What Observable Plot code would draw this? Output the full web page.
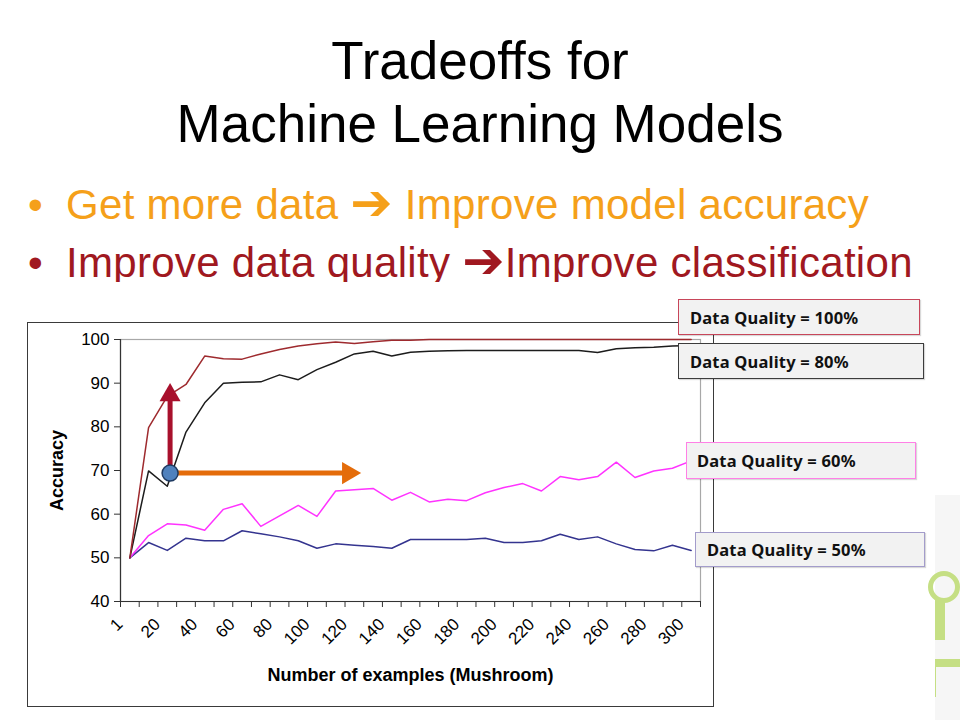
<!DOCTYPE html>
<html>
<head>
<meta charset="utf-8">
<script src="https://cdn.jsdelivr.net/npm/d3@7"></script>
<script src="https://cdn.jsdelivr.net/npm/@observablehq/plot@0.6"></script>
<style>
  html, body { margin: 0; padding: 0; background: #fff; }
  body { width: 960px; height: 720px; overflow: hidden; position: relative; font-family: "Liberation Sans", Arial, sans-serif; }
  .title { position: absolute; left: 0; width: 960px; text-align: center; font-size: 53px; line-height: 1; color: #000; white-space: nowrap; }
  .bullets { position: absolute; left: 0; top: 170px; width: 960px; height: 112px; overflow: hidden; }
  .b { position: absolute; font-size: 42px; line-height: 1; white-space: nowrap; letter-spacing: 0.3px; }
  .arrow { font-family: "DejaVu Sans", sans-serif; font-weight: bold; font-size: 1.2em; line-height: 0; vertical-align: -0.02em; }
  .frame { position: absolute; left: 27px; top: 322px; width: 685px; height: 383px; border: 1.5px solid #3a3a3a; }
  #chart { position: absolute; left: 27px; top: 322px; }
  .call { position: absolute; box-sizing: border-box; background: #F2F2F2; border: 1.5px solid; font-family: "Noto Sans", sans-serif; font-weight: bold; font-size: 16.5px; letter-spacing: 0.2px; color: #111; display: flex; align-items: center; white-space: nowrap; box-shadow: 1px 1px 1px rgba(0,0,0,0.15); }
  .deco { position: absolute; }
</style>
</head>
<body>
<div class="title" style="top:34px">Tradeoffs for</div>
<div class="title" style="top:97px">Machine Learning Models</div>
<div class="bullets">
  <div class="b" style="left:28px; top:13.5px; color:#F5A01A">•</div>
  <div class="b" style="left:66px; top:13.5px; color:#F5A01A">Get more data <span class="arrow">➔</span> Improve model accuracy</div>
  <div class="b" style="left:28px; top:71.5px; color:#A01820">•</div>
  <div class="b" style="left:66px; top:71.5px; color:#A01820">Improve data quality <span class="arrow">➔</span>Improve classification</div>
</div>

<div class="deco" style="left:935px; top:495px; width:25px; height:225px; background:#f6f6f6"></div>
<div class="deco" style="left:928px; top:571px; width:22px; height:22px; border:5px solid #C5DF84; border-radius:50%"></div>
<div class="deco" style="left:935px; top:600px; width:10px; height:40px; background:#C5DF84"></div>
<div class="deco" style="left:935px; top:659px; width:25px; height:8px; background:#C5DF84"></div>
<div class="deco" style="left:935px; top:667px; width:1px; height:30px; background:#C5DF84"></div>

<div class="frame"></div>
<div id="chart"></div>

<script>
// categories: number of examples
const examples = [1, 10, 20, 30, 40, 50, 60, 70, 80, 90, 100, 110, 120, 130, 140, 150,
                  160, 170, 180, 190, 200, 210, 220, 230, 240, 250, 260, 270, 280, 290, 300];
// series (accuracy %)
const q100 = [50, 79.8, 87.0, 89.7, 96.2, 95.6, 95.5, 96.7, 97.7, 98.5, 99.0, 99.4, 99.1, 99.5, 99.8, 99.8,
              100, 100, 100, 100, 100, 100, 100, 100, 100, 100, 100, 100, 100, 100, 100];
const q80 = [50, 69.9, 66.4, 78.8, 85.5, 90.0, 90.2, 90.3, 91.9, 90.8, 93.1, 94.8, 96.7, 97.3, 96.2, 97.1,
             97.3, 97.4, 97.5, 97.5, 97.5, 97.5, 97.5, 97.5, 97.5, 97.0, 97.9, 98.1, 98.2, 98.5, 98.6];
const q60 = [50, 55.1, 57.8, 57.5, 56.3, 61.1, 62.4, 57.2, 59.6, 62.0, 59.5, 65.3, 65.6, 65.9, 63.2, 65.0,
             62.8, 63.4, 63.1, 64.9, 66.1, 67.0, 65.3, 68.6, 67.9, 68.6, 71.9, 68.4, 69.9, 70.5, 72.2];
const q50 = [50, 53.5, 51.7, 54.5, 53.9, 53.9, 56.2, 55.5, 54.8, 53.9, 52.2, 53.2, 52.9, 52.6, 52.2, 54.2,
             54.2, 54.2, 54.2, 54.5, 53.5, 53.5, 53.9, 55.4, 54.2, 54.8, 53.2, 51.9, 51.6, 52.9, 51.7];
const seriesNames = ["Data Quality = 100%", "Data Quality = 80%", "Data Quality = 60%", "Data Quality = 50%"];
const seriesColors = ["#9E2A2E", "#1c1c1c", "#FF33FF", "#34348F"];
const calloutBorders = ["#C8465A", "#3c3c3c", "#FF80E6", "#A39CCB"];
const yTicks = [40, 50, 60, 70, 80, 90, 100];
// annotation: starting point and arrow targets (category index, accuracy)
const startIdx = 2.15, startAcc = 69.4;
const upTargetAcc = 90;
const rightTargetIdx = 12.35;

const seriesValues = [q100, q80, q60, q50];
const rows = [];
seriesValues.forEach((vals, s) => vals.forEach((v, i) => rows.push({series: seriesNames[s], i, v})));
const drawOrder = [3, 2, 1, 0];
const orderedRows = drawOrder.flatMap(s => rows.filter(r => r.series === seriesNames[s]));

const boundaries = examples.map((_, i) => i - 0.5).concat([examples.length - 0.5]);
const labelIdx = examples.map((_, i) => i).filter(i => i % 2 === 0);

const upArrow = [{x1: startIdx, y1: startAcc, x2: startIdx, y2: upTargetAcc}];
const rightArrow = [{x1: startIdx, y1: startAcc, x2: rightTargetIdx, y2: startAcc}];
const startPt = [{x: startIdx, y: startAcc}];

const chart = Plot.plot({
  width: 687, height: 385,
  marginLeft: 93, marginRight: 14, marginTop: 17, marginBottom: 106,
  style: {fontFamily: "'Liberation Sans', Arial, sans-serif", fontSize: "17px", color: "#000", background: "transparent", overflow: "visible"},
  x: {type: "linear", domain: [-0.5, examples.length - 0.5]},
  y: {domain: [40, 100]},
  color: {domain: seriesNames, range: seriesColors},
  marks: [
    Plot.frame({stroke: "#a8a8a8", strokeWidth: 1.2}),
    Plot.axisY({ticks: yTicks, tickSize: 6, tickPadding: 5, fontSize: 17, label: null, stroke: "#333"}),
    Plot.axisX({ticks: boundaries, tickSize: 6, tickFormat: () => "", label: null, stroke: "#333"}),
    Plot.axisX({ticks: labelIdx, tickSize: 0, tickPadding: 20, tickRotate: -45, fontSize: 17, dx: -10,
                tickFormat: i => String(examples[i]), label: null}),
    Plot.ruleX([-0.5], {stroke: "#333", strokeWidth: 1.2}),
    Plot.ruleY([40], {stroke: "#333", strokeWidth: 1.2}),
    Plot.line(orderedRows, {x: "i", y: "v", z: "series", stroke: "series", strokeWidth: 1.5, curve: "linear"}),
    Plot.arrow(upArrow, {x1: "x1", y1: "y1", x2: "x2", y2: "y2", stroke: "#A8102C", strokeWidth: 5,
                         headLength: 0, insetEnd: 14, strokeLinecap: "butt"}),
    Plot.dot(upArrow, {x: "x2", y: "y2", symbol: "triangle", r: 7.8, fill: "#A8102C", dy: 12}),
    Plot.arrow(rightArrow, {x1: "x1", y1: "y1", x2: "x2", y2: "y2", stroke: "#E46C0A", strokeWidth: 5,
                            headLength: 0, insetEnd: 14, strokeLinecap: "butt"}),
    Plot.dot(rightArrow, {x: "x2", y: "y2", symbol: "triangle", r: 8.2, fill: "#E46C0A", rotate: 90, dx: -12.5}),
    Plot.dot(startPt, {x: "x", y: "y", r: 8, fill: "#4F81BD", stroke: "#1F3A60", strokeWidth: 1.5}),
    Plot.text(["Accuracy"], {text: d => d, frameAnchor: "left", dx: -63, rotate: -90, textAnchor: "middle",
                             lineAnchor: "middle", fontWeight: "bold", fontSize: 18}),
    Plot.text(["Number of examples (Mushroom)"], {text: d => d, frameAnchor: "bottom", dy: 74, textAnchor: "middle",
                             lineAnchor: "middle", fontWeight: "bold", fontSize: 18})
  ]
});
document.getElementById("chart").appendChild(chart);

// callouts
const callPos = [
  {left: 678, top: 299, width: 242, height: 36, pad: 11},
  {left: 678, top: 343, width: 246, height: 36, pad: 11},
  {left: 686, top: 442, width: 230, height: 37, pad: 10},
  {left: 695, top: 532, width: 230, height: 35, pad: 11}
];
seriesNames.forEach((name, k) => {
  const d = document.createElement("div");
  d.className = "call";
  const p = callPos[k];
  d.style.left = p.left + "px"; d.style.top = p.top + "px";
  d.style.width = p.width + "px"; d.style.height = p.height + "px";
  d.style.paddingLeft = p.pad + "px";
  d.style.borderColor = calloutBorders[k];
  d.textContent = name;
  document.body.appendChild(d);
});
</script>
</body>
</html>
